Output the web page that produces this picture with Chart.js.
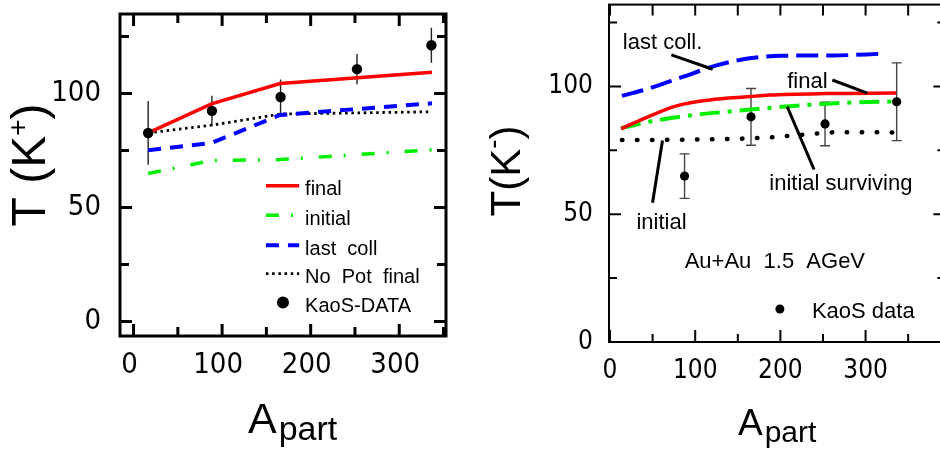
<!DOCTYPE html>
<html lang="en">
<head>
<meta charset="UTF-8">
<title>Kaon slope temperatures vs A_part</title>
<script src="https://cdn.jsdelivr.net/npm/chart.js"></script>
<style>
  html, body { margin: 0; padding: 0; background: #fff; overflow: hidden; width: 940px; height: 456px; }
  canvas { position: absolute; top: 0; }
  #leftChart { left: 0; }
  #rightChart { left: 470px; }
</style>
</head>
<body>
<canvas id="leftChart"></canvas>
<canvas id="rightChart"></canvas>
<script>
// ---- left panel: T(K+) ----
const kpLineX = [16.5, 88, 165.5, 337];
const kpFinal = [82.7, 95.5, 104.4, 109.3];
const kpInitial = [64.9, 70.6, 71.0, 75.3];
const kpLastColl = [75.1, 78.3, 90.6, 95.7];
const kpNoPotFinal = [82.7, 86.1, 91.0, 92.0];
const kpDataX = [16.5, 88.5, 166, 252.3, 336.3];
const kpDataY = [82.7, 92.4, 98.5, 110.7, 121.2];
const kpDataErr = [14, 6.6, 7.7, 6.6, 7.7];

// ---- right panel: T(K-) ----
const kmFinalX = [13, 39, 78, 117, 164, 187, 254, 336];
const kmFinal = [83.4, 87.3, 92.4, 94.7, 96.0, 96.6, 97.2, 97.4];
const kmSurvX = [13, 46, 93, 144, 184, 234, 293, 336];
const kmSurv = [83.6, 86.2, 88.6, 90.3, 91.5, 92.8, 93.8, 94.1];
const kmLastX = [14, 47, 86, 125, 164, 202, 261, 321];
const kmLast = [96.3, 99.3, 103.8, 108.2, 111.0, 112.0, 112.1, 112.8];
const kmInitX = [14, 100, 180, 230, 270, 337];
const kmInit = [79.0, 79.2, 79.9, 81.2, 82.1, 82.0];
const kmDataX = [87.5, 165.5, 252.4, 336.5];
const kmDataY = [64.9, 88.1, 85.3, 94.0];
const kmDataErr = [8.7, 11.1, 8.5, 15.2];

const xTickLabels = [0, 100, 200, 300];
const yTickLabels = [0, 50, 100];
const xTickMarks = [0, 50, 100, 150, 200, 250, 300, 350];
const yTickMarks = [0, 25, 50, 75, 100, 125];

const SANS = "'Liberation Sans', Arial, sans-serif";
const NARROW = "'DejaVu Sans Condensed', 'DejaVu Sans', sans-serif";

function lineSet(label, xs, ys, style) {
    return Object.assign({
        label: label,
        data: xs.map((x, i) => ({ x: x, y: ys[i] })),
        showLine: true,
        pointRadius: 0,
        pointHoverRadius: 0,
        fill: false,
        borderCapStyle: 'butt',
        tension: 0
    }, style);
}

function pointSet(label, xs, ys, errs, r) {
    return {
        label: label,
        data: xs.map((x, i) => ({ x: x, y: ys[i] })),
        errors: errs,
        showLine: false,
        pointRadius: r,
        pointHoverRadius: r,
        pointBackgroundColor: '#000',
        pointBorderColor: '#000',
        pointBorderWidth: 0,
        order: -1
    };
}

function noPad(s) {
    s.paddingTop = 0; s.paddingBottom = 0; s.paddingLeft = 0; s.paddingRight = 0;
}

function axes(o) {
    return {
        x: {
            type: 'linear', min: o.xMin, max: o.xMax,
            afterFit: s => { s.height = o.xH; noPad(s); },
            afterBuildTicks: s => { s.ticks = xTickLabels.map(v => ({ value: v })); },
            grid: { display: false, drawTicks: false },
            border: { display: false },
            ticks: { font: { family: NARROW, size: o.tickSize }, color: '#000', padding: o.xPad,
                     labelOffset: o.xOff, maxRotation: 0, autoSkip: false }
        },
        y: {
            type: 'linear', min: o.yMin, max: o.yMax,
            afterFit: s => { s.width = o.yW; noPad(s); },
            afterBuildTicks: s => { s.ticks = yTickLabels.map(v => ({ value: v })); },
            grid: { display: false, drawTicks: false },
            border: { display: false },
            ticks: { font: { family: NARROW, size: o.tickSize }, color: '#000', padding: o.yPad, autoSkip: false }
        }
    };
}

// box round the plot with inward ticks on all four sides
function framePlugin(o) {
    return {
        id: 'frame',
        afterDatasetsDraw(chart) {
            const { ctx, chartArea: a, scales: { x, y } } = chart;
            ctx.save();
            ctx.strokeStyle = '#000';
            ctx.lineWidth = o.width;
            ctx.strokeRect(a.left, a.top, a.right - a.left, a.bottom - a.top);
            ctx.beginPath();
            xTickMarks.forEach(v => {
                const px = x.getPixelForValue(v);
                const len = v % 100 === 0 ? o.major : o.minor;
                ctx.moveTo(px, a.bottom); ctx.lineTo(px, a.bottom - len);
                ctx.moveTo(px, a.top); ctx.lineTo(px, a.top + (o.topLen || len));
            });
            yTickMarks.forEach(v => {
                const py = y.getPixelForValue(v);
                const len = v % 50 === 0 ? o.major : o.minor;
                ctx.moveTo(a.left, py); ctx.lineTo(a.left + len, py);
                ctx.moveTo(a.right, py); ctx.lineTo(a.right - len, py);
            });
            ctx.stroke();
            ctx.restore();
        }
    };
}

function errorBarPlugin(color, width, cap) {
    return {
        id: 'errbars',
        beforeDatasetsDraw(chart) {
            const { ctx, scales: { x, y } } = chart;
            chart.data.datasets.forEach(ds => {
                if (!ds.errors) return;
                ctx.save();
                ctx.strokeStyle = color;
                ctx.lineWidth = width;
                ctx.beginPath();
                ds.data.forEach((p, i) => {
                    const px = x.getPixelForValue(p.x);
                    const top = y.getPixelForValue(p.y + ds.errors[i]);
                    const bot = y.getPixelForValue(p.y - ds.errors[i]);
                    ctx.moveTo(px, top); ctx.lineTo(px, bot);
                    if (cap) {
                        ctx.moveTo(px - cap, top); ctx.lineTo(px + cap, top);
                        ctx.moveTo(px - cap, bot); ctx.lineTo(px + cap, bot);
                    }
                });
                ctx.stroke();
                ctx.restore();
            });
        }
    };
}

function strokeSample(ctx, ds, x1, x2, y) {
    ctx.save();
    ctx.strokeStyle = ds.borderColor;
    ctx.lineWidth = ds.borderWidth;
    ctx.lineCap = ds.borderCapStyle || 'butt';
    ctx.setLineDash(ds.borderDash || []);
    ctx.beginPath(); ctx.moveTo(x1, y); ctx.lineTo(x2, y); ctx.stroke();
    ctx.restore();
}

// "A" with subscript "part"
function drawApart(ctx, left, base, big, small, drop) {
    ctx.save();
    ctx.fillStyle = '#000';
    ctx.textBaseline = 'alphabetic';
    ctx.textAlign = 'left';
    ctx.font = big + 'px ' + SANS;
    ctx.fillText('A', left, base);
    const w = ctx.measureText('A').width;
    ctx.font = small + 'px ' + SANS;
    ctx.fillText('part', left + w + 2, base + drop);
    ctx.restore();
}

// rotated "T(K+)" style label, parts drawn along the baseline
function drawTLabel(ctx, baseX, centerY, parts) {
    ctx.save();
    ctx.fillStyle = '#000';
    ctx.textBaseline = 'alphabetic';
    ctx.textAlign = 'left';
    let total = 0;
    parts.forEach(p => { ctx.font = p.size + 'px ' + SANS; p.w = ctx.measureText(p.t).width; total += p.w; });
    ctx.translate(baseX, centerY);
    ctx.rotate(-Math.PI / 2);
    let cx = -total / 2;
    parts.forEach(p => {
        ctx.font = p.size + 'px ' + SANS;
        ctx.fillText(p.t, cx, -(p.rise || 0));
        cx += p.w;
    });
    ctx.restore();
}

// ---- left chart ----
const leftCanvas = document.getElementById('leftChart');
leftCanvas.width = 470;
leftCanvas.height = 456;

const leftLegend = [
    { text: 'final', y: 59.5 },
    { text: 'initial', y: 46.6 },
    { text: 'last  coll', y: 33.4 },
    { text: 'No  Pot  final', y: 21.0 },
    { text: 'KaoS-DATA', y: 8.3 }
];

const leftText = {
    id: 'leftText',
    afterDraw(chart) {
        const { ctx, scales: { x, y } } = chart;
        const ds = chart.data.datasets;
        const x1 = x.getPixelForValue(149.5), x2 = x.getPixelForValue(187);
        const tx = x.getPixelForValue(193.7);
        leftLegend.forEach((row, i) => {
            const py = y.getPixelForValue(row.y);
            if (i < 4) {
                strokeSample(ctx, ds[i + 1], x1, x2, py);
            } else {
                ctx.beginPath();
                ctx.fillStyle = '#000';
                ctx.arc(x.getPixelForValue(168.7), py, 6, 0, Math.PI * 2);
                ctx.fill();
            }
            ctx.save();
            ctx.fillStyle = '#000';
            ctx.font = '20px ' + SANS;
            ctx.textBaseline = 'middle';
            ctx.fillText(row.text, tx, py + 4);
            ctx.restore();
        });
        drawApart(ctx, 248, 433, 43, 34, 7);
        drawTLabel(ctx, 45, 165, [
            { t: 'T (K', size: 48 },
            { t: '+', size: 28, rise: 18 },
            { t: ')', size: 48 }
        ]);
    }
};

new Chart(leftCanvas, {
    type: 'scatter',
    data: {
        datasets: [
            pointSet('KaoS-DATA', kpDataX, kpDataY, kpDataErr, 5.2),
            lineSet('final', kpLineX, kpFinal, { borderColor: '#ff0000', borderWidth: 3.5 }),
            lineSet('initial', kpLineX, kpInitial, { borderColor: '#00f000', borderWidth: 3.5, borderDash: [13, 12, 2, 16] }),
            lineSet('last coll', kpLineX, kpLastColl, { borderColor: '#0000ff', borderWidth: 4, borderDash: [13, 9] }),
            lineSet('No Pot final', kpLineX, kpNoPotFinal, { borderColor: '#000000', borderWidth: 2.8, borderDash: [2.5, 3.7] })
        ]
    },
    options: {
        responsive: false,
        animation: false,
        events: [],
        layout: { padding: { top: 14, right: 24, left: 0, bottom: 0 } },
        scales: axes({ xMin: -15.3, xMax: 352.8, yMin: -6.4, yMax: 134.9, xH: 120, yW: 120,
                       tickSize: 29, xPad: 12, xOff: -4, yPad: 19 }),
        plugins: { legend: { display: false }, tooltip: { enabled: false } }
    },
    plugins: [errorBarPlugin('#222', 1.4, 0), framePlugin({ width: 3, major: 12, minor: 9 }), leftText]
});

// ---- right chart ----
const rightCanvas = document.getElementById('rightChart');
rightCanvas.width = 480;
rightCanvas.height = 456;

const rightLabels = [
    { text: 'last coll.', x: 15, y: 117.7 },
    { text: 'final', x: 208, y: 102.6 },
    { text: 'initial surviving', x: 187, y: 62.5 },
    { text: 'initial', x: 31, y: 47.3 },
    { text: 'Au+Au  1.5  AGeV', x: 87.6, y: 32.2 },
    { text: 'KaoS data', x: 237, y: 12.6 }
];
const rightPointers = [
    [72, 112.3, 120.5, 106.7],
    [261, 102.5, 302, 97.4],
    [208, 92.1, 239.5, 67.5],
    [61.6, 78.8, 49.9, 54.5]
];

const rightText = {
    id: 'rightText',
    afterDraw(chart) {
        const { ctx, scales: { x, y } } = chart;
        ctx.save();
        ctx.fillStyle = '#000';
        ctx.font = '22px ' + SANS;
        ctx.textBaseline = 'middle';
        rightLabels.forEach(l => ctx.fillText(l.text, x.getPixelForValue(l.x), y.getPixelForValue(l.y) + 2));
        ctx.strokeStyle = '#000';
        ctx.lineWidth = 3;
        ctx.beginPath();
        rightPointers.forEach(p => {
            ctx.moveTo(x.getPixelForValue(p[0]), y.getPixelForValue(p[1]));
            ctx.lineTo(x.getPixelForValue(p[2]), y.getPixelForValue(p[3]));
        });
        ctx.stroke();
        ctx.beginPath();
        ctx.arc(x.getPixelForValue(199.4), y.getPixelForValue(12.9), 4.5, 0, Math.PI * 2);
        ctx.fill();
        ctx.restore();
        drawApart(ctx, 268, 435, 37, 30, 7);
        drawTLabel(ctx, 50, 171, [
            { t: 'T(K', size: 42 },
            { t: '-', size: 28, rise: 18 },
            { t: ')', size: 42 }
        ]);
    }
};

new Chart(rightCanvas, {
    type: 'scatter',
    data: {
        datasets: [
            pointSet('KaoS data', kmDataX, kmDataY, kmDataErr, 4.6),
            lineSet('final', kmFinalX, kmFinal, { borderColor: '#ff0000', borderWidth: 3.5, cubicInterpolationMode: 'monotone' }),
            lineSet('initial surviving', kmSurvX, kmSurv, { borderColor: '#00f000', borderWidth: 4, borderDash: [20, 8, 4, 8], cubicInterpolationMode: 'monotone' }),
            lineSet('last coll.', kmLastX, kmLast, { borderColor: '#0000ff', borderWidth: 4, borderDash: [22, 8], cubicInterpolationMode: 'monotone' }),
            lineSet('initial', kmInitX, kmInit, { borderColor: '#000000', borderWidth: 4.5, borderDash: [0.5, 14.5], borderCapStyle: 'round', cubicInterpolationMode: 'monotone' })
        ]
    },
    options: {
        responsive: false,
        animation: false,
        events: [],
        layout: { padding: { top: 4, right: 3, left: 0, bottom: 0 } },
        scales: axes({ xMin: -1.2, xMax: 393.7, yMin: 0, yMax: 132, xH: 114, yW: 139,
                       tickSize: 26, xPad: 14, xOff: 0, yPad: 16 }),
        plugins: { legend: { display: false }, tooltip: { enabled: false } }
    },
    plugins: [errorBarPlugin('#444', 1.4, 5), framePlugin({ width: 2, major: 12, minor: 8, topLen: 11 }), rightText]
});
</script>
</body>
</html>
